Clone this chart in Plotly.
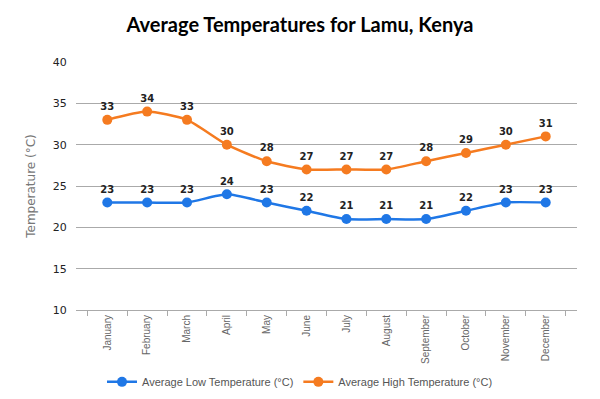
import plotly.graph_objects as go

months = ["January", "February", "March", "April", "May", "June", "July",
          "August", "September", "October", "November", "December"]
low_temps = [23, 23, 23, 24, 23, 22, 21, 21, 21, 22, 23, 23]
high_temps = [33, 34, 33, 30, 28, 27, 27, 27, 28, 29, 30, 31]
y_ticks = [10, 15, 20, 25, 30, 35, 40]

blue = "#1f77e6"
orange = "#f57b20"

fig = go.Figure()
for name, vals, col in [("Average Low Temperature (°C)", low_temps, blue),
                        ("Average High Temperature (°C)", high_temps, orange)]:
    fig.add_trace(go.Scatter(
        x=months, y=vals, name=name,
        mode="lines+markers+text", text=["<b>%d</b>" % v for v in vals],
        textposition="top center",
        textfont=dict(family="DejaVu Sans", size=10, color="#222222"),
        line=dict(color=col, width=2.5, shape="spline", smoothing=0.6),
        marker=dict(color=col, size=10),
    ))

fig.update_layout(
    width=600, height=399,
    margin=dict(l=76, r=23, t=62, b=89, autoexpand=False),
    paper_bgcolor="white", plot_bgcolor="white",
    title=dict(text="<b>Average Temperatures for Lamu, Kenya</b>",
               x=0.5, xanchor="center", y=0.937, yanchor="middle",
               font=dict(family="Lato", size=20, color="#000000")),
    showlegend=True,
    legend=dict(orientation="h", xref="container", x=0.5, xanchor="center",
                yref="container", y=0.043, yanchor="middle",
                bgcolor="rgba(0,0,0,0)",
                font=dict(family="Liberation Sans", size=11, color="#555555"),
                itemwidth=30, tracegroupgap=0),
    xaxis=dict(type="category", showgrid=False, showline=True, automargin=False,
               linecolor="#aaaaaa", linewidth=1, ticks="outside",
               tickson="boundaries", ticklen=5, tickcolor="#aaaaaa",
               tickangle=-90,
               tickfont=dict(family="Liberation Sans", size=10, color="#666666")),
    yaxis=dict(range=[10, 40], tickvals=y_ticks, showgrid=True, automargin=False,
               gridcolor="#aaaaaa", gridwidth=1, zeroline=False,
               showline=False, ticks="outside", ticklen=6, tickcolor="white",
               tickfont=dict(family="DejaVu Sans", size=11, color="#222222"),
               title=dict(text="Temperature (°C)", standoff=14,
                          font=dict(family="DejaVu Sans", size=12, color="#777777"))),
)

fig.write_html("out.html", config={"displayModeBar": False},
               post_script="document.body.style.margin='0';document.body.style.padding='0';")
